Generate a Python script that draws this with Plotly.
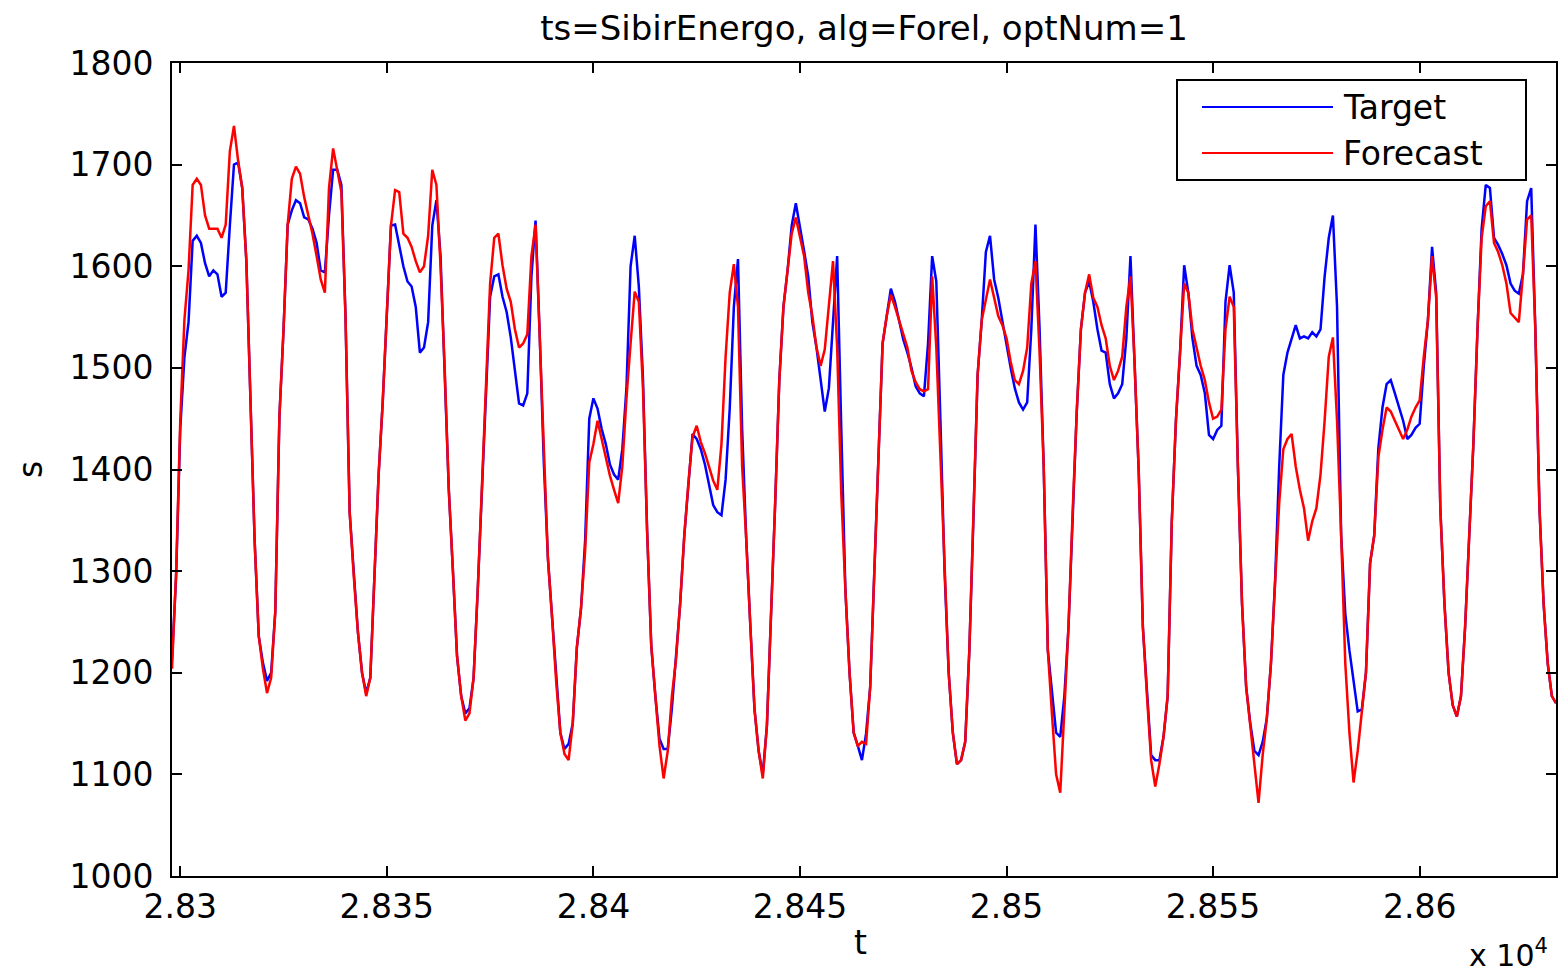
import plotly.graph_objects as go

# ---------------- data ----------------
t_start = 28298
t_end = 28633
t = list(range(t_start, t_end + 1))

forecast = [
    1204,1299,1448,1547,1596,1680,1686,1680,1650,1637,1637,1637,1628,1641,1713,1738,1704,1677,1605,1457,1330,1236,1204,1180,
    1195,1260,1452,1538,1641,1686,1698,1691,1668,1650,1632,1610,1587,1574,1677,1716,1695,1673,1550,1358,1295,1240,1200,1177,
    1195,1295,1394,1466,1549,1640,1675,1673,1632,1628,1619,1605,1594,1600,1630,1695,1680,1600,1500,1380,1300,1216,1177,1153,
    1160,1195,1281,1376,1485,1583,1628,1632,1601,1578,1565,1538,1520,1524,1533,1610,1641,1533,1407,1312,1254,1191,1141,1120,
    1114,1150,1225,1263,1320,1407,1425,1448,1430,1412,1394,1380,1367,1403,1470,1524,1575,1565,1480,1340,1227,1177,1128,1096,
    1123,1177,1213,1268,1335,1387,1432,1443,1427,1416,1403,1389,1380,1425,1511,1574,1602,1560,1403,1331,1245,1164,1123,1096,
    1148,1254,1367,1488,1560,1596,1632,1648,1628,1610,1574,1551,1520,1502,1518,1560,1605,1520,1376,1281,1200,1141,1128,1132,
    1130,1186,1300,1403,1524,1551,1572,1560,1547,1533,1520,1497,1486,1479,1477,1479,1590,1520,1416,1300,1200,1141,1110,1114,
    1132,1222,1353,1493,1547,1569,1587,1569,1551,1542,1529,1506,1488,1484,1497,1520,1583,1605,1515,1403,1222,1159,1100,1082,
    1164,1245,1358,1457,1538,1574,1592,1569,1560,1542,1529,1502,1488,1497,1511,1560,1590,1505,1398,1245,1177,1114,1088,1110,
    1137,1177,1349,1448,1515,1583,1574,1538,1520,1502,1488,1466,1450,1452,1459,1538,1570,1560,1403,1268,1186,1150,1114,1072,
    1119,1155,1209,1290,1367,1420,1430,1435,1403,1380,1362,1330,1349,1362,1395,1448,1511,1530,1448,1335,1209,1141,1092,1123,
    1159,1200,1308,1335,1412,1439,1461,1457,1448,1439,1430,1439,1452,1461,1468,1511,1547,1610,1569,1362,1268,1200,1168,1157,
    1177,1245,1335,1425,1538,1628,1659,1664,1623,1614,1601,1583,1554,1549,1545,1592,1646,1650,1538,1362,1268,1209,1177,1170,
]

target = [
    1213,1295,1440,1510,1545,1625,1630,1623,1603,1590,1596,1592,1570,1574,1640,1700,1702,1677,1605,1457,1330,1236,1210,1192,
    1200,1260,1452,1538,1641,1655,1665,1662,1648,1646,1637,1623,1596,1594,1650,1695,1695,1680,1550,1358,1295,1240,1200,1180,
    1195,1295,1394,1466,1549,1640,1641,1620,1600,1585,1580,1560,1515,1520,1545,1640,1665,1610,1500,1380,1300,1216,1177,1160,
    1165,1195,1281,1376,1485,1570,1590,1592,1570,1555,1530,1495,1465,1463,1475,1590,1645,1533,1407,1312,1254,1191,1141,1125,
    1130,1150,1225,1263,1330,1450,1470,1460,1440,1425,1405,1395,1390,1420,1480,1600,1630,1580,1490,1340,1227,1177,1135,1125,
    1125,1165,1213,1268,1335,1387,1435,1430,1420,1405,1385,1365,1358,1355,1390,1460,1560,1607,1440,1331,1245,1164,1123,1100,
    1148,1254,1367,1488,1560,1596,1640,1662,1640,1615,1590,1545,1520,1490,1457,1480,1545,1610,1440,1281,1200,1141,1128,1114,
    1140,1186,1300,1403,1524,1551,1578,1565,1545,1528,1515,1500,1482,1475,1472,1524,1610,1585,1448,1300,1200,1141,1110,1114,
    1132,1222,1353,1493,1547,1614,1630,1587,1569,1545,1525,1500,1480,1466,1459,1466,1538,1641,1538,1403,1222,1182,1141,1137,
    1177,1245,1358,1457,1538,1574,1585,1565,1538,1517,1515,1484,1470,1475,1484,1529,1610,1505,1398,1245,1177,1119,1114,1114,
    1137,1177,1349,1448,1515,1601,1574,1529,1502,1493,1475,1434,1430,1439,1443,1565,1601,1574,1403,1268,1186,1150,1123,1119,
    1132,1155,1209,1290,1403,1493,1515,1529,1542,1529,1531,1529,1535,1531,1538,1590,1628,1650,1560,1335,1258,1222,1191,1162,
    1164,1200,1308,1335,1421,1461,1484,1488,1475,1461,1448,1430,1434,1441,1445,1502,1547,1619,1574,1362,1268,1200,1168,1157,
    1177,1245,1335,1425,1538,1637,1680,1677,1628,1621,1612,1601,1583,1576,1573,1592,1664,1677,1538,1362,1268,1209,1177,1170,
]

x_tickvals = [28300, 28350, 28400, 28450, 28500, 28550, 28600]
x_ticktext = ["2.83", "2.835", "2.84", "2.845", "2.85", "2.855", "2.86"]
y_tickvals = [1000, 1100, 1200, 1300, 1400, 1500, 1600, 1700, 1800]

series_names = ["Target", "Forecast"]
series_colors = ["#0000FF", "#FF0000"]

# ---------------- figure ----------------
FONT = "DejaVu Sans"
W, H = 1558, 975
ML, MR, MT, MB = 172, 2, 63, 99
PW, PH = W - ML - MR, H - MT - MB

fig = go.Figure()
fig.add_trace(go.Scatter(x=t, y=target, mode="lines", name=series_names[0],
                         line=dict(color=series_colors[0], width=2.5)))
fig.add_trace(go.Scatter(x=t, y=forecast, mode="lines", name=series_names[1],
                         line=dict(color=series_colors[1], width=2.5)))

axis_common = dict(
    showline=True, linecolor="black", linewidth=2, mirror="ticks",
    ticks="inside", ticklen=10, tickwidth=2, tickcolor="black",
    showgrid=False, zeroline=False,
    tickfont=dict(family=FONT, size=33, color="black"),
)

fig.update_xaxes(range=[t_start, t_end], tickmode="array", tickvals=x_tickvals,
                 ticktext=x_ticktext, ticklabelstandoff=0, **axis_common)
fig.update_yaxes(range=[1000, 1800], tickmode="array", tickvals=y_tickvals,
                 ticklabelstandoff=10, **axis_common)

fig.update_layout(
    width=W, height=H,
    margin=dict(l=ML, r=MR, t=MT, b=MB, autoexpand=False),
    paper_bgcolor="white", plot_bgcolor="white",
    showlegend=False,
    title=dict(text="ts=SibirEnergo, alg=Forel, optNum=1", x=0.5, xref="paper",
               y=1 - 28 / H, yref="container", yanchor="middle", xanchor="center",
               font=dict(family=FONT, size=34, color="black")),
)


def px_x(p):
    return (p - ML) / PW


def px_y(p):
    return 1 - (p - MT) / PH


# axis labels
fig.add_annotation(text="t", xref="paper", yref="paper", x=px_x(860), y=px_y(942),
                   showarrow=False, xanchor="center", yanchor="middle",
                   font=dict(family=FONT, size=33, color="black"))
fig.add_annotation(text="s", xref="paper", yref="paper", x=px_x(30), y=px_y(470),
                   showarrow=False, textangle=-90, xanchor="center", yanchor="middle",
                   font=dict(family=FONT, size=33, color="black"))
fig.add_annotation(text="x 10<sup>4</sup>", xref="paper", yref="paper",
                   x=px_x(1550), y=px_y(953), xanchor="right", yanchor="middle",
                   showarrow=False, font=dict(family=FONT, size=30, color="black"))

# legend box (MATLAB style)
fig.add_shape(type="rect", xref="paper", yref="paper",
              x0=px_x(1177), x1=px_x(1526), y0=px_y(180), y1=px_y(80),
              line=dict(color="black", width=2), fillcolor="white", layer="above")
for name, color, py in zip(series_names, series_colors, [107, 153]):
    fig.add_shape(type="line", xref="paper", yref="paper",
                  x0=px_x(1202), x1=px_x(1333), y0=px_y(py), y1=px_y(py),
                  line=dict(color=color, width=2), layer="above")
    fig.add_annotation(text=name, xref="paper", yref="paper", x=px_x(1341), y=px_y(py),
                       xanchor="left", yanchor="middle", showarrow=False,
                       font=dict(family=FONT, size=33, color="black"))

fig.write_html("out.html", config={"displayModeBar": False},
               post_script="document.body.style.margin='0';")
